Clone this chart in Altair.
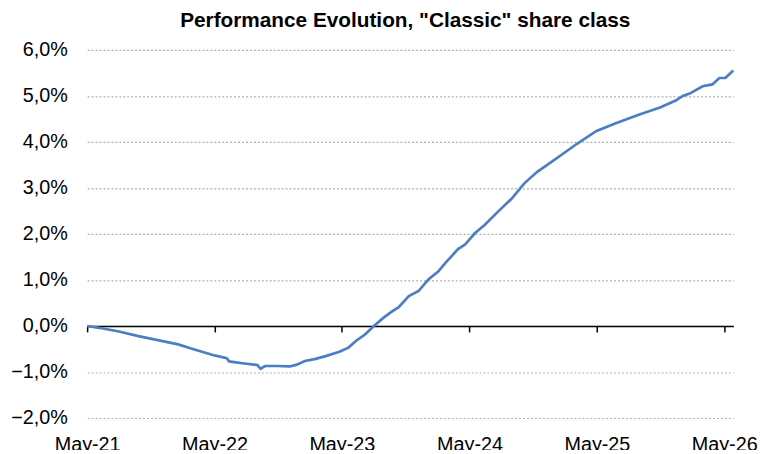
import altair as alt
import pandas as pd

# ---- data ----
dates = [
    "2021-05-01", "2021-06-04", "2021-07-31", "2021-09-25", "2021-12-10",
    "2022-01-17", "2022-02-23", "2022-05-01", "2022-06-05", "2022-06-12",
    "2022-07-20", "2022-09-01", "2022-09-10", "2022-09-23", "2022-10-27",
    "2022-12-03", "2022-12-23", "2023-01-15", "2023-02-12", "2023-03-18",
    "2023-04-24", "2023-05-20", "2023-06-11", "2023-07-04", "2023-08-01",
    "2023-08-27", "2023-09-19", "2023-10-11", "2023-11-09", "2023-12-07",
    "2024-01-04", "2024-02-02", "2024-02-22", "2024-03-29", "2024-04-18",
    "2024-05-17", "2024-06-14", "2024-07-21", "2024-08-30", "2024-10-05",
    "2024-11-11", "2024-12-21", "2025-01-27", "2025-03-05", "2025-04-30",
    "2025-06-26", "2025-09-02", "2025-10-29", "2025-12-13", "2026-01-02",
    "2026-01-22", "2026-02-28", "2026-03-28", "2026-04-17", "2026-05-04",
    "2026-05-27",
]
perf = [
    0.00, -0.04, -0.12, -0.22, -0.34,
    -0.40, -0.49, -0.64, -0.70, -0.77,
    -0.81, -0.85, -0.93, -0.87, -0.87,
    -0.88, -0.84, -0.76, -0.72, -0.65,
    -0.56, -0.47, -0.32, -0.20, 0.00,
    0.17, 0.30, 0.41, 0.65, 0.76,
    1.01, 1.19, 1.37, 1.67, 1.77,
    2.02, 2.20, 2.48, 2.77, 3.10,
    3.35, 3.56, 3.76, 3.96, 4.24,
    4.41, 4.60, 4.75, 4.90, 5.00,
    5.05, 5.21, 5.25, 5.39, 5.39,
    5.55,
]
tick_years = [2021, 2022, 2023, 2024, 2025, 2026]
y_ticks = [-2, -1, 0, 1, 2, 3, 4, 5, 6]
title_text = 'Performance Evolution, "Classic" share class'

df = pd.DataFrame({"date": dates, "perf": perf})

FONT = "Liberation Sans"
x_domain = [alt.DateTime(year=2021, month=5, date=1, utc=True),
            alt.DateTime(year=2026, month=5, date=27, utc=True)]
x_ticks = [alt.DateTime(year=y, month=5, date=1, utc=True) for y in tick_years]
xscale = alt.Scale(type="utc", domain=x_domain)
yscale = alt.Scale(domain=[-2, 6], nice=False, zero=False)

yaxis = alt.Axis(values=y_ticks,
                 labelExpr="replace(format(datum.value, '.1f'), '.', ',') + '%'",
                 labelFontSize=20, labelFont=FONT, labelColor="black",
                 labelPadding=20, domain=False, ticks=False,
                 grid=True, gridDash=[2, 2], gridColor="#b0b0b0",
                 gridWidth=1.2, title=None)

base = alt.Chart(df)

line = base.mark_line(color="#4a7fc1", strokeWidth=2.7).encode(
    x=alt.X("date:T", scale=xscale,
            axis=alt.Axis(values=x_ticks, format="%b-%y", labelFontSize=20,
                          labelFont=FONT, labelColor="black", labelPadding=17,
                          labelFlush=False, labelOverlap=False,
                          domain=False, ticks=False, grid=False, title=None,
                          orient="bottom")),
    y=alt.Y("perf:Q", scale=yscale, axis=yaxis),
)

axis_layer = base.mark_line(opacity=0).encode(
    x=alt.X("date:T", scale=xscale,
            axis=alt.Axis(values=x_ticks, labels=False, domain=True,
                          domainColor="black", domainWidth=1.5, ticks=True,
                          tickSize=6, tickColor="black", tickWidth=1.5,
                          offset=-93, grid=False, title=None, orient="bottom")),
    y=alt.Y("perf:Q", scale=yscale, axis=yaxis),
)

chart = alt.layer(line, axis_layer).resolve_axis(x="independent").properties(
    width=653,
    height=372,
    autosize=alt.AutoSizeParams(type="none"),
    padding={"left": 80, "top": 40, "right": 28, "bottom": 30},
    title=alt.TitleParams(title_text, fontSize=21, fontWeight="bold", font=FONT,
                          color="black", frame="group", offset=9, dx=-5),
).configure_view(stroke=None)

chart.save("out.html", embed_options={"renderer": "svg", "actions": False})
